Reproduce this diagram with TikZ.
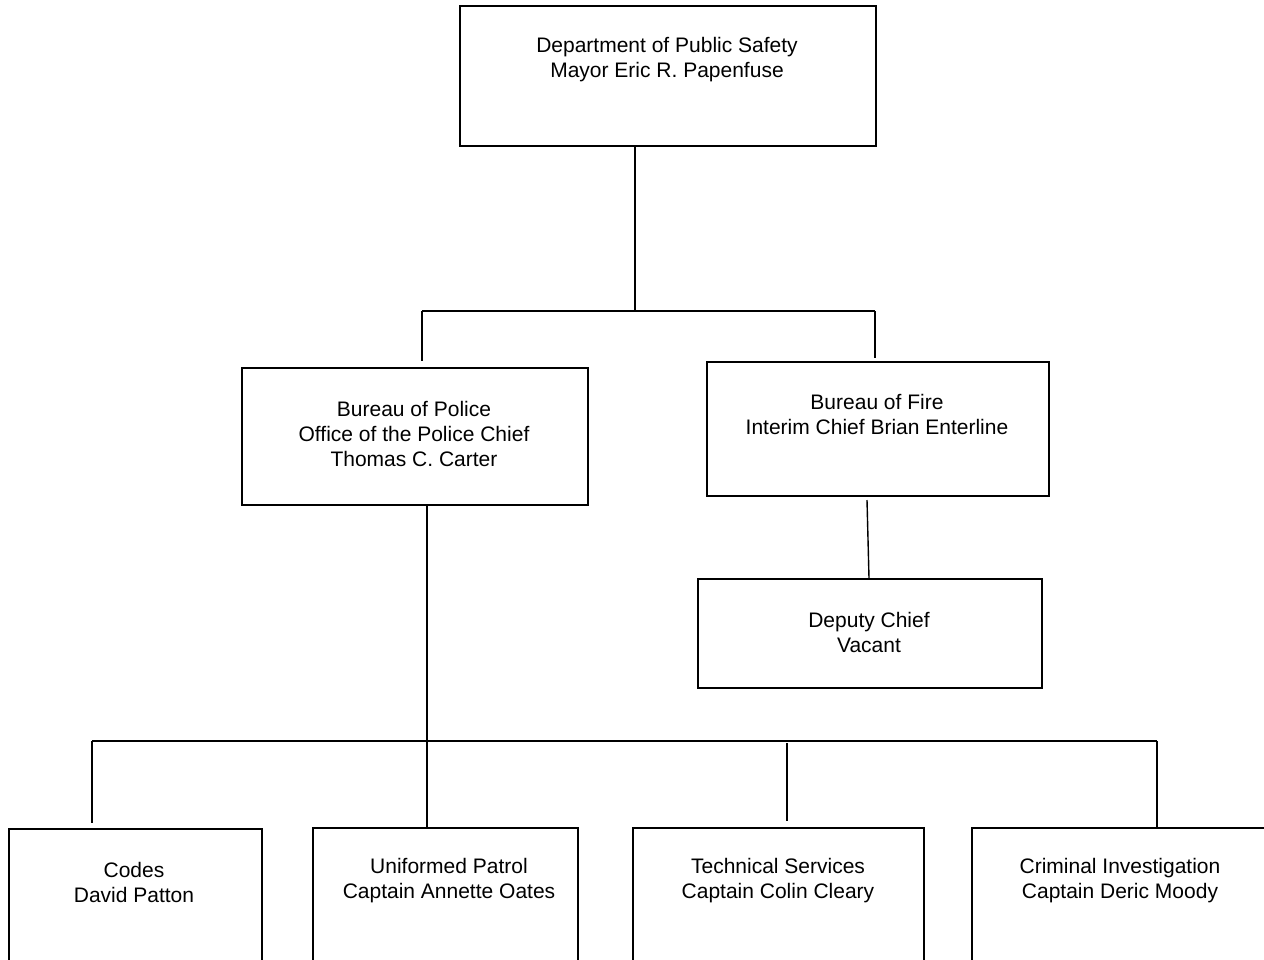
\documentclass[tikz,border=0pt]{standalone}
\usepackage{fontspec}
\setmainfont{Liberation Sans}
\usetikzlibrary{calc}
\begin{document}
\begin{tikzpicture}[x=1pt,y=-1pt,
  box/.style={draw,line width=1.5pt,rectangle,inner sep=0pt,anchor=north west},
  lbl/.style={align=center,font=\fontsize{21}{25}\selectfont,inner sep=0pt},
  conn/.style={line width=1.4pt}]
\useasboundingbox (0,0) rectangle (1264,959);
\clip (0,0) rectangle (1264,959);
% boxes
\node[box,minimum width=416pt,minimum height=140pt] (dps) at (459,5) {};
\node[lbl] (dpst) at (667,60) {Department of Public Safety\\Mayor Eric R. Papenfuse};
\node[box,minimum width=346pt,minimum height=137pt] (pol) at (241,367) {};
\node[lbl] (polt) at (414,434) {Bureau of Police\\Office of the Police Chief\\Thomas C. Carter};
\node[box,minimum width=342pt,minimum height=134pt] (fire) at (706,361) {};
\node[lbl] (firet) at (877,414) {Bureau of Fire\\Interim Chief Brian Enterline};
\node[box,minimum width=344pt,minimum height=109pt] (dep) at (697,578) {};
\node[lbl] (dept) at (869,632) {Deputy Chief\\Vacant};
\node[box,minimum width=253pt,minimum height=160pt] (codes) at (8,828) {};
\node[lbl] (codest) at (134,882) {Codes\\David Patton};
\node[box,minimum width=265pt,minimum height=160pt] (unif) at (312,827) {};
\node[lbl] (unift) at (449,881) {Uniformed Patrol\\Captain Annette Oates};
\node[box,minimum width=291pt,minimum height=160pt] (tech) at (632,827) {};
\node[lbl] (techt) at (778,881) {Technical Services\\Captain Colin Cleary};
\node[box,minimum width=320pt,minimum height=160pt] (crim) at (971,827) {};
\node[lbl] (crimt) at (1120,881) {Criminal Investigation\\Captain Deric Moody};
% junction and free-end coordinates
\coordinate (j1) at (635,311);
\coordinate (j1l) at (422,311);
\coordinate (j1r) at (875,311);
\coordinate (pe) at (422,361);
\coordinate (fe) at (875,358);
\coordinate (fs) at (867,500);
\coordinate (de) at (869,578);
\coordinate (j2) at (427,741);
\coordinate (j2l) at (92,741);
\coordinate (j2r) at (1157,741);
\coordinate (j2t) at (787,743);
\coordinate (ce) at (92,823);
\coordinate (te) at (787,821);
% connectors
\draw[conn] (dps.south -| j1) -- (j1);
\draw[conn] (j1l) -- (j1r);
\draw[conn] (j1l) -- (pe);
\draw[conn] (j1r) -- (fe);
\draw[conn] (fs) -- (de);
\draw[conn] (pol.south -| j2) -- (j2 |- unif.north);
\draw[conn] (j2l) -- (j2r);
\draw[conn] (j2l) -- (ce);
\draw[conn] (j2t) -- (te);
\draw[conn] (j2r) -- (j2r |- crim.north);
\end{tikzpicture}
\end{document}
